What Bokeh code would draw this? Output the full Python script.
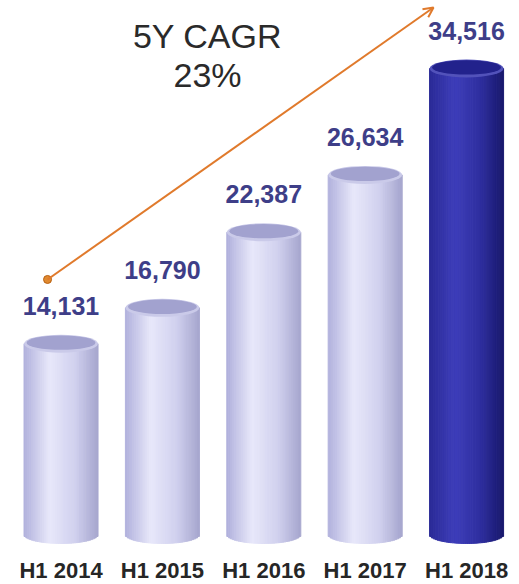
import numpy as np
from bokeh.plotting import figure
from bokeh.models import Arrow, OpenHead
from bokeh.core.properties import value
from bokeh.embed import file_html
from bokeh.resources import INLINE

# ---- data ----
periods = ["H1 2014", "H1 2015", "H1 2016", "H1 2017", "H1 2018"]
revenue = [14131, 16790, 22387, 26634, 34516]
value_labels = ["14,131", "16,790", "22,387", "26,634", "34,516"]
highlight = [False, False, False, False, True]
cagr_title = "5Y CAGR"
cagr_value = "23%"

# ---- styling ----
FONT = "Liberation Sans"
BAR_W = 0.73
ELL_H = 1333.0
N_STRIPS = 40

light_stops = [(0.0, (176, 176, 220)), (0.35, (232, 232, 250)), (0.7, (208, 208, 238)), (1.0, (166, 166, 206))]
dark_stops = [(0.0, (42, 42, 150)), (0.35, (62, 62, 186)), (0.7, (46, 46, 158)), (1.0, (24, 24, 108))]


def shade(stops, u):
    for (u0, c0), (u1, c1) in zip(stops[:-1], stops[1:]):
        if u0 <= u <= u1:
            t = (u - u0) / (u1 - u0)
            c = [int(round(a + (b - a) * t)) for a, b in zip(c0, c1)]
            return "#%02x%02x%02x" % tuple(c)
    c = stops[-1][1]
    return "#%02x%02x%02x" % c


xs = np.arange(len(periods), dtype=float)

p = figure(width=519, height=584, output_backend="svg", toolbar_location=None,
           x_range=(-0.597, 4.522), y_range=(-3704, 39553), min_border=0)
p.axis.visible = False
p.grid.visible = False
p.outline_line_color = None
p.background_fill_color = "white"
p.border_fill_color = "white"

# cylinder bodies as shaded strips
left, right, bottom, top, colors = [], [], [], [], []
for x, v, hl in zip(xs, revenue, highlight):
    stops = dark_stops if hl else light_stops
    for k in range(N_STRIPS):
        u0 = k / N_STRIPS
        u1 = (k + 1) / N_STRIPS
        uc = (u0 + u1) / 2
        left.append(x - BAR_W / 2 + u0 * BAR_W)
        right.append(x - BAR_W / 2 + u1 * BAR_W)
        bottom.append(-(ELL_H / 2) * np.sqrt(max(0.0, 1 - (2 * uc - 1) ** 2)))
        top.append(v)
        colors.append(shade(stops, uc))
p.quad(left=left, right=right, bottom=bottom, top=top, fill_color=colors,
       line_color=colors, line_width=1)

# top caps
rim = ["#5252ba" if h else "#cacae9" for h in highlight]
inner = ["#22228c" if h else "#a2a2cf" for h in highlight]
p.ellipse(x=xs, y=revenue, width=BAR_W, height=ELL_H, fill_color=rim, line_color=None)
p.ellipse(x=xs, y=[v + ELL_H * 0.06 for v in revenue], width=BAR_W * 0.93, height=ELL_H * 0.8,
          fill_color=inner, line_color=None)

# value labels
p.text(x=xs, y=revenue, text=value_labels, text_align="center", text_baseline="middle",
       y_offset=-38, text_font=value(FONT), text_font_style="bold", text_font_size="25px",
       text_color="#3e3e88")

# category labels
p.text(x=xs, y=[0] * len(xs), text=periods, text_align="center", text_baseline="middle",
       y_offset=36, text_font=value(FONT), text_font_style="bold", text_font_size="22px",
       text_color="#262626")

# CAGR annotation
p.text(x=[1.445, 1.445], y=[36887, 33998], text=[cagr_title, cagr_value], text_align="center",
       text_baseline="middle", text_font=value(FONT), text_font_size="34px", text_color="#2a2a2a")

arrow_start = (-0.133, 18889)
arrow_end = (3.674, 39035)
p.add_layout(Arrow(x_start=arrow_start[0], y_start=arrow_start[1], x_end=arrow_end[0], y_end=arrow_end[1],
                   line_color="#e07a2c", line_width=2,
                   end=OpenHead(size=10, line_color="#e07a2c", line_width=2)))
p.scatter(x=[arrow_start[0]], y=[arrow_start[1]], size=8, fill_color="#e08a30", line_color="#b86010")

open("out.html", "w").write(file_html(p, INLINE))
